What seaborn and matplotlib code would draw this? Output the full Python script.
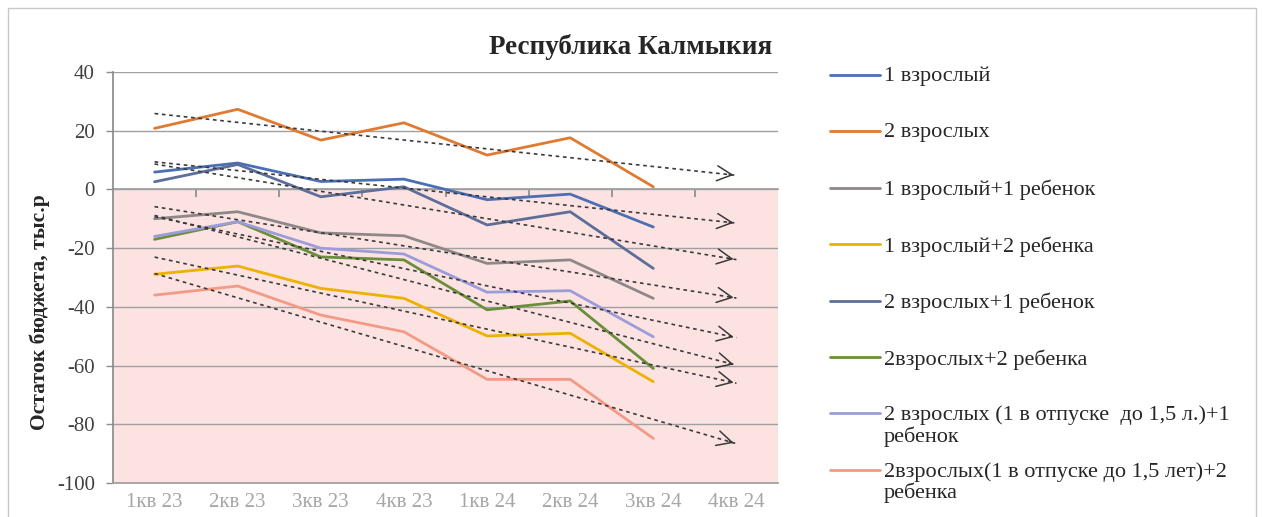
import numpy as np
import pandas as pd
import matplotlib.pyplot as plt
import seaborn as sns
from matplotlib.lines import Line2D
from matplotlib.patches import Rectangle

# кварталы (последний - прогноз, без данных)
quarters = ["1кв 23", "2кв 23", "3кв 23", "4кв 23", "1кв 24", "2кв 24", "3кв 24", "4кв 24"]

# остаток бюджета, тыс.р
s_1v = [5.9, 9.0, 2.7, 3.5, -3.5, -1.6, -12.8]
s_2v = [20.8, 27.3, 16.8, 22.7, 11.7, 17.6, 0.9]
s_1v1r = [-10.0, -7.6, -14.8, -15.8, -25.2, -24.0, -37.1]
s_1v2r = [-28.9, -26.1, -33.7, -37.1, -49.9, -49.0, -65.5]
s_2v1r = [2.6, 8.5, -2.5, 0.9, -12.1, -7.6, -26.9]
s_2v2r = [-17.0, -11.0, -23.0, -24.0, -41.0, -38.0, -61.0]
s_otp1r = [-16.0, -11.0, -20.0, -22.0, -35.0, -34.5, -50.2]
s_otp2r = [-36.0, -32.9, -42.8, -48.5, -64.7, -64.7, -84.8]

names = ["1 взрослый", "2 взрослых", "1 взрослый+1 ребенок", "1 взрослый+2 ребенка",
         "2 взрослых+1 ребенок", "2взрослых+2 ребенка",
         "2 взрослых (1 в отпуске  до 1,5 л.)+1\nребенок",
         "2взрослых(1 в отпуске до 1,5 лет)+2\nребенка"]
series = [s_1v, s_2v, s_1v1r, s_1v2r, s_2v1r, s_2v2r, s_otp1r, s_otp2r]
colors = ["#4A6FB5", "#E07A30", "#8E8888", "#EDB100", "#5C6E99", "#6A8F3A", "#9C9CDA", "#F39A86"]
palette = dict(zip(names, colors))

rows = []
for name, vals in zip(names, series):
    for i, v in enumerate(vals):
        rows.append({"q": i, "group": name, "value": v})
df = pd.DataFrame(rows)

sns.set_theme(style="white")
plt.rcParams['font.family'] = ['Liberation Serif', 'DejaVu Serif']
plt.rcParams['axes.unicode_minus'] = False

W, H = 1262, 517
fig = plt.figure(figsize=(W / 100, H / 100), dpi=100)
ax = fig.add_axes([113/W, 1-483/H, (778-113)/W, (483-72)/H])

# розовая зона отрицательного остатка
ax.axhspan(-100, 0, color="#FDE2E2", zorder=0, lw=0)

sns.lineplot(data=df, x="q", y="value", hue="group", hue_order=names, palette=palette,
             linewidth=2.0, sort=False, legend=False, ax=ax, zorder=3)

# линейные тренды с прогнозом на 1 период
x_all = np.arange(len(quarters))
for vals in series:
    k, b = np.polyfit(np.arange(len(vals)), vals, 1)
    yt = k * x_all + b
    ax.plot(x_all, yt, color="#3A3A3A", lw=1.2, ls=(0, (2.2, 2.2)), zorder=4)
    x0 = x_all[-1] - 0.12
    ax.annotate("", xy=(x_all[-1], yt[-1]), xytext=(x0, k * x0 + b),
                arrowprops=dict(arrowstyle="->,head_length=0.9,head_width=0.45", color="#3A3A3A", lw=1.1),
                zorder=4)

ax.set_xlim(-0.5, 7.5)
ax.set_ylim(-100, 40)
ax.set_yticks(np.arange(-100, 41, 20))
ax.set_xticks(x_all)
ax.set_xticklabels(quarters, color="#A6A6A6", fontsize=15)
ax.tick_params(axis="x", length=0, pad=7)
ax.tick_params(axis="y", length=5, width=1, color="#8C8C8C", direction="out", labelsize=15,
               labelcolor="#404040", pad=8, left=True)
ax.yaxis.grid(True, color="#A0A0A0", lw=1)
ax.set_axisbelow(True)
for sp in ["top", "right"]:
    ax.spines[sp].set_visible(False)
ax.spines["left"].set_color("#8C8C8C")
ax.spines["bottom"].set_color("#A0A0A0")
ax.set_xlabel("")
ax.set_ylabel("Остаток бюджета, тыс.р", fontsize=15.5, fontweight="bold")
ax.yaxis.set_label_coords((50-113)/665, (483-312)/411)

# ось категорий проходит через 0
sec = ax.secondary_xaxis(0, transform=ax.transData)
sec.set_xticks(np.arange(0.5, 7, 1.0))
sec.set_xticklabels([])
sec.tick_params(axis="x", length=6, color="#8C8C8C", direction="out")
sec.spines["bottom"].set_color("#A0A0A0")

fig.text(0.5, 1-47/H, "Республика Калмыкия", ha="center", va="center",
         fontsize=19.5, fontweight="bold")

# легенда справа: первая строка каждой подписи на одном шаге
for i, (name, c) in enumerate(zip(names, colors)):
    yc = 75 + 56.4 * i
    fig.add_artist(Line2D([830/W, 880/W], [1-yc/H, 1-yc/H], color=c, lw=2))
    fig.text(884/W, 1-(yc-8)/H, name, ha="left", va="top", fontsize=16,
             linespacing=1.08, color="#262626")

fig.patches.append(Rectangle((8/W, -0.1), (1256-8)/W, 1.1-8/H, transform=fig.transFigure,
                             fill=False, edgecolor="#C8C8C8", lw=1))

fig.savefig("out.png", dpi=100)
